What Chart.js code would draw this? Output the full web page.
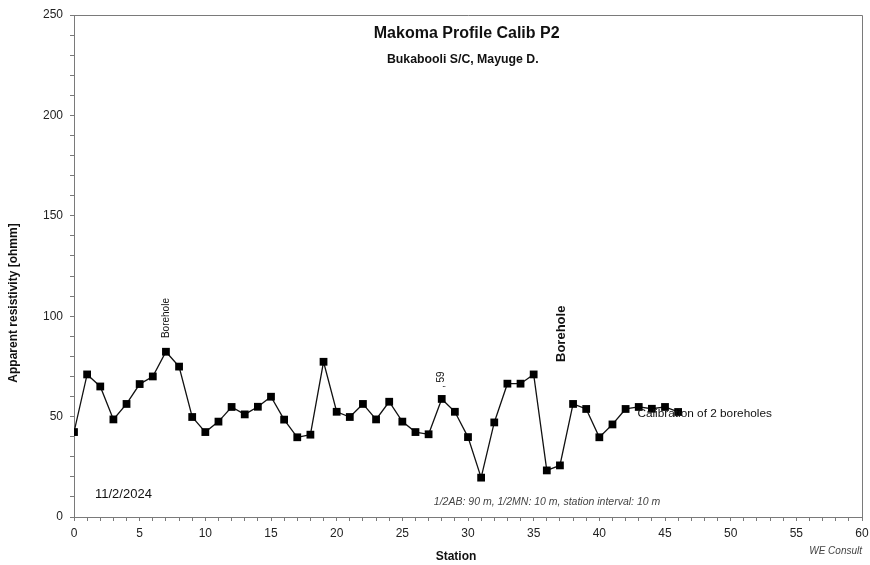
<!DOCTYPE html>
<html lang="en">
<head>
  <meta charset="UTF-8">
  <title>Makoma Profile Calib P2</title>
  <script src="https://cdn.jsdelivr.net/npm/chart.js@4"></script>
  <style>
    * { margin: 0; padding: 0; box-sizing: border-box; }
    body { background: #fff; width: 870px; height: 565px; overflow: hidden; }
    .wrap { position: relative; width: 870px; height: 565px; }
  </style>
</head>
<body>
  <div class="wrap"><canvas id="profile"></canvas></div>

  <script>
    // station numbers and apparent resistivity
    const stations = [
      0, 1, 2, 3, 4, 5, 6, 7, 8, 9,
      10, 11, 12, 13, 14, 15, 16, 17, 18, 19,
      20, 21, 22, 23, 24, 25, 26, 27, 28, 29,
      30, 31, 32, 33, 34, 35, 36, 37, 38, 39,
      40, 41, 42, 43, 44, 45, 46
    ];
    const resistivity = [
      42.3, 71.0, 65.0, 48.6, 56.3, 66.2, 70.0, 82.3, 74.9, 49.8,
      42.3, 47.5, 54.8, 51.1, 54.9, 59.9, 48.5, 39.7, 41.0, 77.3,
      52.4, 49.8, 56.3, 48.6, 57.4, 47.5, 42.3, 41.2, 58.8, 52.4,
      39.8, 19.6, 47.1, 66.4, 66.4, 71.0, 23.2, 25.7, 56.3, 53.8,
      39.7, 46.1, 53.8, 54.8, 53.9, 54.8, 52.3
    ];
    const yTicks = [0, 50, 100, 150, 200, 250];
    const xTicks = [0, 5, 10, 15, 20, 25, 30, 35, 40, 45, 50, 55, 60];

    const FONT = "'Liberation Sans', Arial, sans-serif";
    const axisGrey = '#7a7a7a';

    // text drawn on top of the plot; x/y given in data units
    const notes = [
      { text: 'Borehole', x: 7, y: 89.1, font: '10px', rot: true },
      { text: ', 59', x: 28, y: 64.2, font: '10px', rot: true },
      { text: 'Borehole', x: 37.15, y: 77.2, font: 'bold 13px', rot: true },
      { text: 'Calibration of 2 boreholes', x: 42.9, y: 51.3, font: '11.8px' },
      { text: '11/2/2024', x: 1.6, y: 11.0, font: '13px' },
      { text: '1/2AB: 90 m, 1/2MN: 10 m, station interval: 10 m', x: 27.4, y: 7.4, font: 'italic 10.5px', color: '#444' }
    ];

    const decorations = {
      id: 'decorations',
      afterDraw(chart) {
        const { ctx, chartArea: a, scales: { x, y } } = chart;
        ctx.save();
        // plot frame (top and right edges)
        ctx.strokeStyle = axisGrey;
        ctx.lineWidth = 1;
        ctx.beginPath();
        ctx.moveTo(a.left, a.top + 0.5);
        ctx.lineTo(a.right + 0.5, a.top + 0.5);
        ctx.lineTo(a.right + 0.5, a.bottom);
        ctx.stroke();

        ctx.fillStyle = '#111';
        ctx.textAlign = 'center';
        ctx.textBaseline = 'middle';
        ctx.font = `bold 16px ${FONT}`;
        ctx.fillText('Makoma Profile Calib P2', x.getPixelForValue(29.9), 34);
        ctx.font = `bold 12.3px ${FONT}`;
        ctx.fillText('Bukabooli S/C, Mayuge D.', x.getPixelForValue(29.6), 60);

        for (const n of notes) {
          const px = x.getPixelForValue(n.x);
          const py = y.getPixelForValue(n.y);
          ctx.font = `${n.font} ${FONT}`;
          ctx.fillStyle = n.color || '#111';
          ctx.textBaseline = 'middle';
          ctx.textAlign = 'left';
          if (n.rot) {
            ctx.save();
            ctx.translate(px, py);
            ctx.rotate(-Math.PI / 2);
            ctx.fillText(n.text, 0, 0);
            ctx.restore();
          } else {
            ctx.fillText(n.text, px, py);
          }
        }

        // axis titles
        ctx.fillStyle = '#111';
        ctx.font = `bold 12px ${FONT}`;
        ctx.save();
        ctx.translate(14, 303);
        ctx.rotate(-Math.PI / 2);
        ctx.textAlign = 'center';
        ctx.fillText('Apparent resistivity [ohmm]', 0, 0);
        ctx.restore();
        ctx.font = `bold 12px ${FONT}`;
        ctx.textAlign = 'center';
        ctx.fillText('Station', 456, 557);

        ctx.font = `italic 10px ${FONT}`;
        ctx.fillStyle = '#444';
        ctx.textAlign = 'right';
        ctx.fillText('WE Consult', a.right, 551);
        ctx.restore();
      }
    };

    new Chart(document.getElementById('profile'), {
      type: 'line',
      data: {
        datasets: [{
          data: stations.map((s, i) => ({ x: s, y: resistivity[i] })),
          borderColor: '#111',
          borderWidth: 1.3,
          backgroundColor: '#000',
          pointStyle: 'rect',
          pointRadius: 5.5,
          pointBorderWidth: 0,
          tension: 0
        }]
      },
      options: {
        responsive: true,
        maintainAspectRatio: false,
        animation: false,
        layout: { padding: { top: 15, right: 8, left: 0, bottom: 0 } },
        plugins: { legend: { display: false }, tooltip: { enabled: false } },
        scales: {
          x: {
            type: 'linear',
            min: 0,
            max: 60,
            afterFit: s => { s.height = 48; s.paddingLeft = 0; s.paddingRight = 0; },
            afterBuildTicks: s => { s.ticks = Array.from({ length: 61 }, (_, i) => ({ value: i })); },
            grid: { drawOnChartArea: false, color: axisGrey, tickLength: 4, tickColor: axisGrey },
            border: { color: axisGrey, width: 1 },
            ticks: {
              autoSkip: false,
              maxRotation: 0,
              padding: 5,
              color: '#222',
              font: { family: FONT, size: 12 },
              callback: v => (xTicks.includes(v) ? v : '')
            }
          },
          y: {
            min: 0,
            max: 250,
            afterFit: s => { s.width = 74; s.paddingTop = 0; s.paddingBottom = 0; },
            afterBuildTicks: s => { s.ticks = Array.from({ length: 26 }, (_, i) => ({ value: i * 10 })); },
            grid: { drawOnChartArea: false, color: axisGrey, tickLength: 4, tickColor: axisGrey },
            border: { color: axisGrey, width: 1 },
            ticks: {
              autoSkip: false,
              padding: 7,
              color: '#222',
              font: { family: FONT, size: 12 },
              callback: v => (yTicks.includes(v) ? v : '')
            }
          }
        }
      },
      plugins: [decorations]
    });
  </script>
</body>
</html>
